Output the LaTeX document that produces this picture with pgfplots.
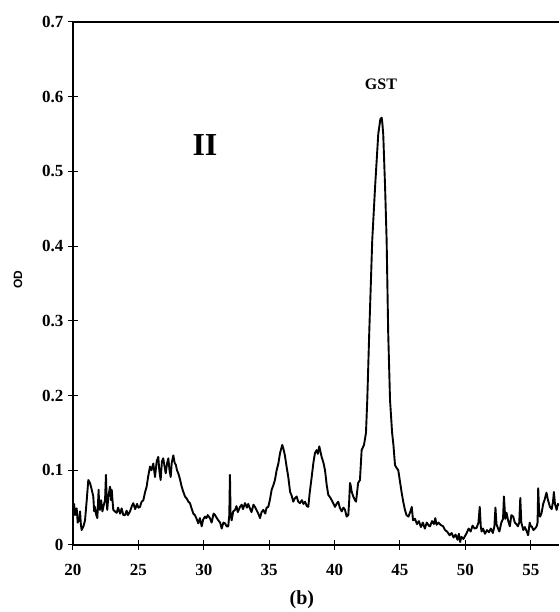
\documentclass[border=0pt]{standalone}
\usepackage{fontspec}
\setmainfont{Liberation Serif}
\setsansfont{Liberation Sans}
\usepackage{pgfplots}
\pgfplotsset{compat=1.18}
\begin{document}
\begin{tikzpicture}[x=1pt,y=1pt]
\path[use as bounding box] (-73,-67) rectangle (486,545);
\begin{axis}[
  at={(0,0)}, anchor=south west,
  scale only axis, width=486pt, height=523pt,
  xmin=20, xmax=57.16, ymin=0, ymax=0.7,
  axis lines*=left,
  axis line style={line width=1.3pt},
  xtick={20,25,...,55}, ytick={0,0.1,...,0.7},
  yticklabels={0,0.1,0.2,0.3,0.4,0.5,0.6,0.7},
  tick align=center, major tick length=10pt,
  tick style={line width=1pt, black},
  /pgf/number format/assume math mode=true,
  ticklabel style={font=\bfseries\fontsize{17}{17}\selectfont},
  xticklabel style={yshift=-11pt},
  yticklabel style={xshift=-1pt},
  ylabel={OD},
  ylabel style={at={(axis description cs:0,0.507)}, yshift=55pt, anchor=center, font=\sffamily\bfseries\fontsize{12}{12}\selectfont},
  xlabel={(b)},
  xlabel style={at={(axis description cs:0.471,0)}, yshift=-55pt, anchor=center, font=\bfseries\fontsize{20}{20}\selectfont},
  clip=true,
]
\addplot[black, line width=1.9pt, line join=round] coordinates {
(20.0,0.047) (20.08,0.055) (20.15,0.040) (20.28,0.049) (20.36,0.030) (20.46,0.033) (20.54,0.045) (20.6,0.028) (20.66,0.020) (20.8,0.025) (20.92,0.033) (21.05,0.060) (21.17,0.087) (21.3,0.083) (21.42,0.075) (21.55,0.065) (21.62,0.045) (21.68,0.051) (21.78,0.040) (21.86,0.036) (21.96,0.074) (22.0,0.050) (22.06,0.047) (22.15,0.060) (22.25,0.045) (22.32,0.051) (22.45,0.060) (22.52,0.094) (22.58,0.055) (22.62,0.047) (22.7,0.065) (22.83,0.078) (22.9,0.060) (22.96,0.074) (23.02,0.060) (23.08,0.047) (23.2,0.045) (23.34,0.043) (23.45,0.050) (23.6,0.042) (23.72,0.049) (23.85,0.040) (23.98,0.040) (24.1,0.046) (24.2,0.040) (24.36,0.045) (24.5,0.052) (24.61,0.056) (24.75,0.048) (24.9,0.055) (25.0,0.050) (25.12,0.051) (25.25,0.058) (25.38,0.060) (25.5,0.070) (25.63,0.078) (25.75,0.092) (25.89,0.105) (26.0,0.100) (26.14,0.109) (26.27,0.091) (26.4,0.112) (26.52,0.118) (26.6,0.100) (26.7,0.087) (26.8,0.112) (26.9,0.116) (27.0,0.105) (27.09,0.096) (27.2,0.110) (27.29,0.116) (27.38,0.100) (27.47,0.091) (27.55,0.110) (27.67,0.120) (27.77,0.110) (27.87,0.107) (27.95,0.100) (28.05,0.096) (28.18,0.088) (28.31,0.078) (28.42,0.072) (28.56,0.065) (28.7,0.062) (28.82,0.058) (28.94,0.056) (29.05,0.050) (29.2,0.042) (29.32,0.040) (29.45,0.035) (29.58,0.029) (29.7,0.036) (29.84,0.025) (29.95,0.034) (30.09,0.038) (30.2,0.036) (30.3,0.040) (30.47,0.036) (30.6,0.030) (30.75,0.042) (30.86,0.040) (31.0,0.036) (31.11,0.033) (31.25,0.030) (31.37,0.022) (31.5,0.030) (31.62,0.029) (31.75,0.025) (31.87,0.025) (31.95,0.040) (32.0,0.094) (32.05,0.040) (32.13,0.033) (32.25,0.045) (32.39,0.047) (32.5,0.052) (32.6,0.044) (32.77,0.051) (32.9,0.054) (33.0,0.048) (33.15,0.056) (33.3,0.050) (33.4,0.055) (33.53,0.049) (33.65,0.044) (33.8,0.054) (33.91,0.051) (34.05,0.046) (34.17,0.042) (34.3,0.036) (34.42,0.044) (34.55,0.047) (34.7,0.042) (34.8,0.050) (34.93,0.051) (35.05,0.060) (35.19,0.074) (35.32,0.080) (35.44,0.087) (35.57,0.100) (35.7,0.109) (35.83,0.123) (36.0,0.134) (36.1,0.128) (36.2,0.120) (36.33,0.105) (36.46,0.091) (36.6,0.071) (36.72,0.066) (36.84,0.058) (36.95,0.062) (37.1,0.065) (37.22,0.058) (37.35,0.056) (37.5,0.060) (37.62,0.055) (37.74,0.058) (37.88,0.052) (37.99,0.051) (38.1,0.070) (38.25,0.091) (38.38,0.110) (38.5,0.123) (38.63,0.127) (38.72,0.122) (38.83,0.132) (38.92,0.125) (39.01,0.118) (39.15,0.110) (39.27,0.100) (39.4,0.080) (39.52,0.067) (39.65,0.064) (39.78,0.060) (39.9,0.056) (40.03,0.051) (40.15,0.055) (40.28,0.058) (40.4,0.050) (40.54,0.045) (40.68,0.050) (40.8,0.047) (40.92,0.038) (41.05,0.040) (41.12,0.060) (41.18,0.083) (41.23,0.080) (41.3,0.072) (41.43,0.065) (41.56,0.060) (41.64,0.058) (41.8,0.083) (41.94,0.087) (42.07,0.127) (42.25,0.134) (42.4,0.150) (42.5,0.194) (42.65,0.284) (42.88,0.408) (43.1,0.480) (43.34,0.550) (43.5,0.570) (43.6,0.572) (43.65,0.565) (43.72,0.550) (43.86,0.480) (43.98,0.408) (44.1,0.284) (44.24,0.194) (44.4,0.150) (44.5,0.134) (44.62,0.107) (44.75,0.103) (44.87,0.100) (45.0,0.085) (45.13,0.070) (45.25,0.058) (45.38,0.047) (45.5,0.040) (45.65,0.038) (45.8,0.045) (45.9,0.051) (46.0,0.033) (46.15,0.035) (46.3,0.028) (46.45,0.032) (46.6,0.024) (46.75,0.030) (46.9,0.022) (47.05,0.030) (47.2,0.026) (47.3,0.025) (47.45,0.032) (47.6,0.028) (47.7,0.036) (47.8,0.027) (47.95,0.030) (48.1,0.027) (48.3,0.025) (48.45,0.020) (48.6,0.018) (48.8,0.013) (48.95,0.016) (49.1,0.010) (49.25,0.014) (49.4,0.007) (49.5,0.015) (49.6,0.004) (49.7,0.011) (49.85,0.008) (50.1,0.016) (50.25,0.022) (50.4,0.018) (50.55,0.026) (50.7,0.022) (50.86,0.023) (51.0,0.030) (51.1,0.051) (51.18,0.025) (51.24,0.018) (51.35,0.022) (51.5,0.015) (51.65,0.020) (51.8,0.017) (51.95,0.022) (52.1,0.016) (52.22,0.025) (52.3,0.050) (52.38,0.028) (52.5,0.022) (52.6,0.018) (52.75,0.030) (52.88,0.035) (52.95,0.065) (53.05,0.035) (53.15,0.043) (53.28,0.032) (53.4,0.025) (53.52,0.040) (53.66,0.038) (53.78,0.030) (53.9,0.028) (54.02,0.025) (54.12,0.030) (54.2,0.063) (54.28,0.030) (54.43,0.020) (54.55,0.024) (54.7,0.018) (54.8,0.013) (54.92,0.030) (55.0,0.025) (55.07,0.025) (55.2,0.020) (55.33,0.022) (55.45,0.025) (55.52,0.030) (55.57,0.076) (55.65,0.040) (55.72,0.038) (55.83,0.043) (55.95,0.055) (56.05,0.060) (56.2,0.070) (56.32,0.060) (56.47,0.051) (56.6,0.048) (56.7,0.058) (56.77,0.071) (56.85,0.055) (56.98,0.047) (57.08,0.055) (57.16,0.053)
};
\draw[line width=1.3pt] (rel axis cs:0,1) -- (rel axis cs:1,1);
\node[font=\bfseries\fontsize{32}{32}\selectfont] at (axis cs:30.09,0.535) {II};
\node[font=\bfseries\fontsize{16}{16}\selectfont] at (axis cs:43.55,0.617) {GST};
\end{axis}
\end{tikzpicture}
\end{document}
